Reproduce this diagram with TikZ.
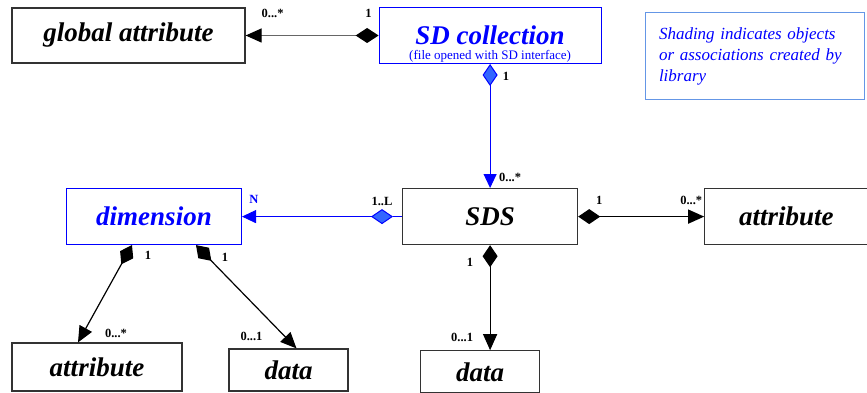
\documentclass[tikz,border=0pt]{standalone}
\usepackage{fontspec}
\setmainfont{Liberation Serif}
\usetikzlibrary{positioning}
\usetikzlibrary{arrows.meta}

\definecolor{libblue}{RGB}{0,0,255}
\definecolor{diamblue}{RGB}{51,102,255}
\definecolor{noteline}{RGB}{100,150,230}

\tikzset{
  cls/.style={draw=black!80, line width=1.2pt, inner sep=0pt, font=\fontsize{27}{27}\selectfont\bfseries\itshape},
  libcls/.style={cls, draw=libblue, line width=1pt, text=libblue},
  mult/.style={inner sep=0pt, text=black, font=\fontsize{12.5}{12.5}\selectfont\bfseries},
  comp/.style={line width=1.2pt, {Diamond[length=22pt,width=15pt]}-{Triangle[length=16pt,width=14pt]}},
  greycomp/.style={black!60, {Diamond[length=23pt,width=15pt,color=black]}-{Triangle[length=16pt,width=14pt,color=black]}},
  libcomp/.style={line width=1pt, libblue, {Diamond[length=22pt,width=15pt,fill=diamblue]}-{Triangle[length=14pt,width=13pt]}},
}

\begin{document}
\begin{tikzpicture}[x=1pt,y=-1pt]
  \useasboundingbox (0,0) rectangle (867,393);
  \node[cls] (glob) [minimum width=233pt, minimum height=55pt] at (128.5,35.5) {global attribute};
  \node[libcls] (coll) [right=133pt of glob, minimum width=222pt, minimum height=56pt, text height=22pt, text depth=3pt,
    label={[anchor=south, yshift=1.5pt, inner sep=0pt, font=\fontsize{13}{13}\selectfont, text=libblue]south:{(file opened with SD interface)}}] {SD collection};
  \node[draw=noteline, line width=1pt] (note) [minimum height=87pt, text width=191pt, inner xsep=14pt, inner ysep=0pt, align=left,
    text=libblue, font=\fontsize{17}{21}\selectfont\itshape] at (754.5,56.5) {Shading indicates objects\\or associations created by\\library};
  \node[cls] (sds) [below=124pt of coll, minimum width=175pt, minimum height=56pt] {SDS};
  \node[libcls] (dim) [left=160pt of sds, minimum width=175pt, minimum height=56pt] {dimension};
  \node[cls] (attr) [right=126pt of sds, minimum width=163pt, minimum height=56pt] {attribute};
  \node[cls] (sdsdata) [below=105pt of sds, xshift=-10pt, minimum width=119pt, minimum height=42pt] {data};
  \node[cls] (dimdata) [minimum width=119pt, minimum height=42pt] at (288.5,370) {data};
  \node[cls] (dimattr) [minimum width=170pt, minimum height=48pt] at (97,367) {attribute};

  \path[comp]
    (coll.west) edge [greycomp] node[mult, at start, xshift=-10pt, yshift=22pt] {1}
                                node[mult, at end, xshift=27pt, yshift=22pt] {0...*} (glob.east)
    (sds.east) edge node[mult, at start, xshift=21pt, yshift=16pt] {1}
                    node[mult, at end, xshift=-13pt, yshift=16pt] {0...*} (attr.west)
    (sds.south) edge node[mult, at start, xshift=-20pt, yshift=-17pt] {1}
                     node[mult, at end, xshift=-28pt, yshift=13pt] {0...1} (sds.south |- sdsdata.north)
    ([xshift=-22pt]dim.south) edge node[mult, at start, xshift=16pt, yshift=-10pt] {1}
                                   node[mult, at end, xshift=38pt, yshift=9pt] {0...*} ([xshift=-19pt]dimattr.north)
    ([xshift=42pt]dim.south) edge node[mult, at start, xshift=29pt, yshift=-12pt] {1}
                                  node[mult, at end, xshift=-45pt, yshift=12pt] {0...1} ([xshift=8pt]dimdata.north);

  % library side
  \draw[libblue, line width=1pt] (sds.west) -- ++(-9,0) coordinate (sdsw);
  \path[libcomp]
    (coll.south) edge node[mult, at start, xshift=16pt, yshift=-12pt] {1}
                      node[mult, at end, xshift=20pt, yshift=11pt] {0...*} (coll.south |- sds.north)
    (sdsw) edge node[mult, at start, xshift=-11pt, yshift=15pt] {1..L}
                node[mult, text=libblue, at end, xshift=12pt, yshift=17pt] {N} (dim.east);
\end{tikzpicture}
\end{document}
